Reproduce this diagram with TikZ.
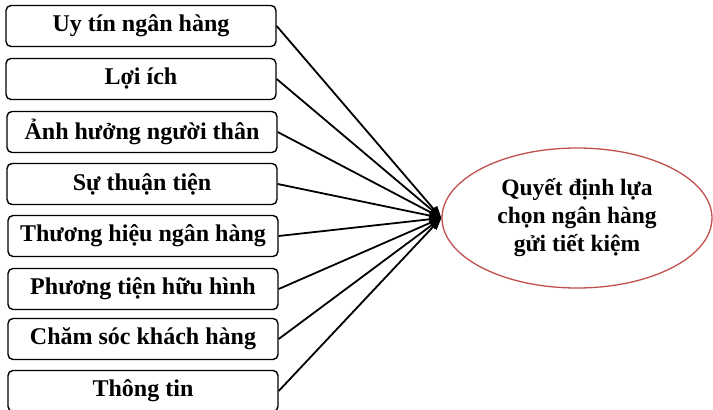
\documentclass[tikz,border=0pt]{standalone}
\usepackage{fontspec}
\setmainfont{Liberation Serif}
\usetikzlibrary{arrows.meta,shapes.geometric}
\definecolor{ellred}{RGB}{192,80,77}
\begin{document}
\begin{tikzpicture}[x=1pt,y=-1pt,
  factor/.style={draw=black,line width=1.4pt,rounded corners=5pt,minimum width=270pt,minimum height=41pt,inner sep=0pt,font=\fontsize{24}{27}\selectfont\bfseries},
  goal/.style={draw=ellred,line width=1.3pt,ellipse,minimum width=270pt,minimum height=140pt,inner sep=0pt,align=center,font=\fontsize{23.5}{28}\selectfont\bfseries},
  link/.style={line width=1.8pt,-{Triangle[length=12pt,width=9pt]}}]
\useasboundingbox (0,0) rectangle (713,410);
\node[factor] (f1) at (141,26) {Uy tín ngân hàng};
\node[factor] (f2) at (141,79) {Lợi ích};
\node[factor] (f3) at (142,132) {Ảnh hưởng người thân};
\node[factor] (f4) at (142,184) {Sự thuận tiện};
\node[factor] (f5) at (143,236) {Thương hiệu ngân hàng};
\node[factor] (f6) at (143,289) {Phương tiện hữu hình};
\node[factor] (f7) at (143,339) {Chăm sóc khách hàng};
\node[factor] (f8) at (143,391) {Thông tin};
\node[goal] (g) at (577,218) {Quyết định lựa\\chọn ngân hàng\\gửi tiết kiệm};
\foreach \i in {1,...,8}{
  \draw[link] (f\i.east) -- (g.west);
}
\end{tikzpicture}
\end{document}
